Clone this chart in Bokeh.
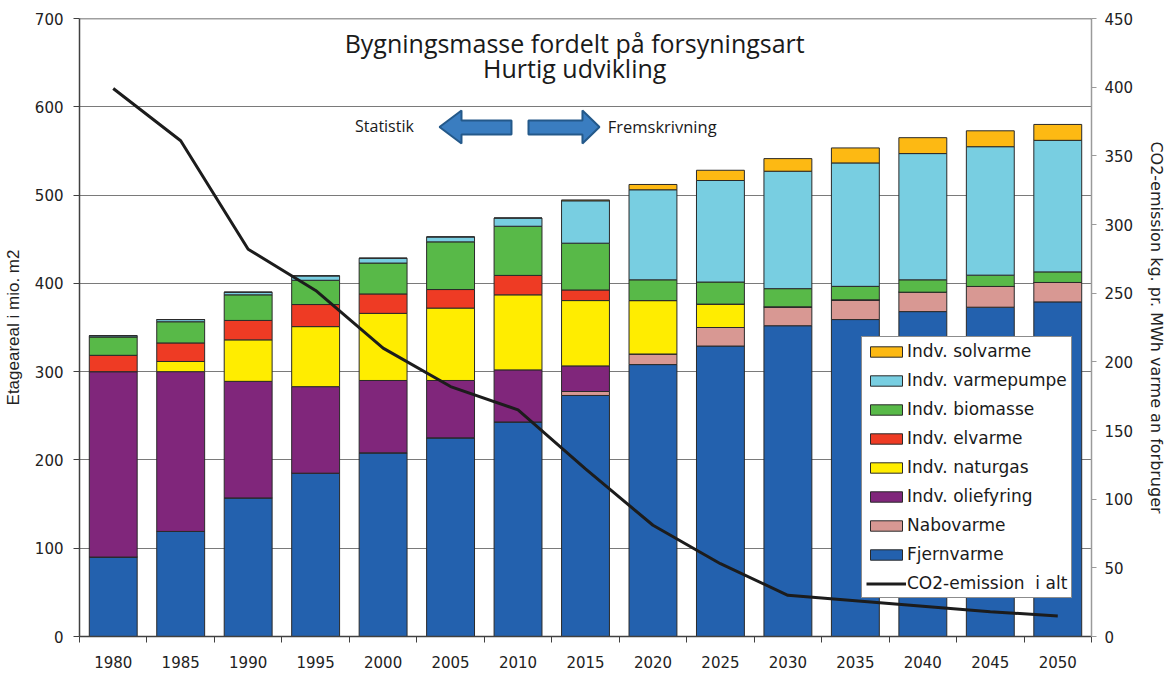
from bokeh.plotting import figure
from bokeh.models import (ColumnDataSource, Range1d, LinearAxis, FixedTicker, Legend,
                          LegendItem, Label, Span, CustomJSTickFormatter)
from bokeh.embed import file_html
from bokeh.resources import INLINE

years = ["1980", "1985", "1990", "1995", "2000", "2005", "2010", "2015",
         "2020", "2025", "2030", "2035", "2040", "2045", "2050"]
fjernvarme = [90, 119, 157, 185, 208, 225, 243, 273, 308, 329, 352, 359, 368, 373, 379]
nabovarme = [0, 0, 0, 0, 0, 0, 0, 4.5, 12, 21, 21.4, 22.3, 22, 23.5, 22]
oliefyring = [210, 181, 132, 98, 82, 65, 59, 29, 0, 0, 0, 0, 0, 0, 0]
naturgas = [0, 11.5, 47, 68, 76, 82, 85, 74, 60.5, 26.5, 0, 0, 0, 0, 0]
elvarme = [18.5, 21, 22, 25, 22, 21, 22, 12, 0, 0, 0, 0, 0, 0, 0]
biomasse = [20.7, 24, 29, 27.5, 35, 54, 55.7, 53, 23.5, 25, 20.6, 15.3, 14, 12.8, 12]
varmepumpe = [1.5, 2.5, 3, 5, 5.5, 5.6, 9.3, 48, 102, 115, 133, 139.8, 143, 145.5, 149]
solvarme = [0, 0, 0, 0, 0, 0, 0, 1, 6, 11.6, 14.3, 17, 18, 18, 18]
co2_emission = [399, 361, 282, 252, 210, 182, 165, 122, 81, 53, 30, 26, 22, 18, 15]

series_keys = ["fjernvarme", "nabovarme", "oliefyring", "naturgas",
               "elvarme", "biomasse", "varmepumpe", "solvarme"]
series_labels = ["Fjernvarme", "Nabovarme", "Indv. oliefyring", "Indv. naturgas",
                 "Indv. elvarme", "Indv. biomasse", "Indv. varmepumpe", "Indv. solvarme"]
series_colors = ["#2361AE", "#D89893", "#80267B", "#FFED00",
                 "#EE3B24", "#58B948", "#78CEE1", "#FDB913"]

x = [i + 0.5 for i in range(len(years))]
src = ColumnDataSource(dict(x=x, year=years, fjernvarme=fjernvarme, nabovarme=nabovarme,
                            oliefyring=oliefyring, naturgas=naturgas, elvarme=elvarme,
                            biomasse=biomasse, varmepumpe=varmepumpe, solvarme=solvarme,
                            co2=co2_emission))

p = figure(frame_width=1012, frame_height=618, output_backend="svg", toolbar_location=None,
           x_range=Range1d(0, len(years)), y_range=Range1d(0, 700),
           min_border_left=72, min_border_right=70, min_border_top=18, min_border_bottom=30)
p.outline_line_color = None
p.background_fill_color = "white"
p.border_fill_color = "white"

p.extra_y_ranges = {"co2": Range1d(0, 450)}

bar_renderers = p.vbar_stack(series_keys, x="x", width=0.71, source=src,
                             fill_color=series_colors, line_color="#2a2a2a", line_width=1)

line_r = p.line(x="x", y="co2", source=src, y_range_name="co2",
                line_color="#1c1c1c", line_width=3)

# axes
tick_font = "DejaVu Sans"
p.xaxis.ticker = FixedTicker(ticks=x, minor_ticks=list(range(len(years) + 1)))
p.xaxis.formatter = CustomJSTickFormatter(args=dict(labels=years),
                                          code="return labels[Math.floor(tick)];")
p.xaxis.major_tick_line_color = None
p.xaxis.minor_tick_in = 0
p.xaxis.minor_tick_out = 6
p.xaxis.minor_tick_line_color = "#404040"
p.xaxis.axis_line_color = "#404040"
p.xaxis.axis_line_width = 1.5
p.xaxis.major_label_text_font = tick_font
p.xaxis.major_label_text_font_size = "15px"
p.xaxis.major_label_text_color = "#222222"
p.xaxis.major_label_standoff = 13

p.yaxis.ticker = FixedTicker(ticks=list(range(0, 701, 100)))
p.yaxis.minor_tick_line_color = None
p.yaxis.major_tick_in = 0
p.yaxis.major_tick_out = 6
p.yaxis.major_tick_line_color = "#404040"
p.yaxis.axis_line_color = "#404040"
p.yaxis.axis_line_width = 1.5
p.yaxis.major_label_text_font = tick_font
p.yaxis.major_label_text_font_size = "15px"
p.yaxis.major_label_text_color = "#222222"
p.yaxis.major_label_standoff = 10
p.yaxis.axis_label = "Etageareal i mio. m2"
p.yaxis.axis_label_text_font = "Liberation Sans"
p.yaxis.axis_label_text_font_style = "normal"
p.yaxis.axis_label_text_font_size = "17px"
p.yaxis.axis_label_text_color = "#222222"
p.yaxis.axis_label_standoff = 9

right = LinearAxis(y_range_name="co2", ticker=FixedTicker(ticks=list(range(0, 451, 50))))
right.minor_tick_line_color = None
right.major_tick_in = 0
right.major_tick_out = 5
right.major_tick_line_color = "#9a9a9a"
right.axis_line_color = "#9a9a9a"
right.axis_line_width = 1.5
right.major_label_text_font = tick_font
right.major_label_text_font_size = "15px"
right.major_label_text_color = "#222222"
right.major_label_standoff = 8
right.axis_label = "CO2-emission kg. pr. MWh varme an forbruger"
right.axis_label_text_font = "DejaVu Sans"
right.axis_label_text_font_style = "normal"
right.axis_label_text_font_size = "16px"
right.axis_label_text_color = "#222222"
right.axis_label_standoff = 11
p.add_layout(right, "right")

p.xgrid.visible = False
p.ygrid.ticker = FixedTicker(ticks=list(range(100, 701, 100)))
p.ygrid.grid_line_color = "#7a7a7a"
p.ygrid.grid_line_width = 1

p.add_layout(Span(location=700, dimension="width", line_color="#404040", line_width=1.5))

# title inside the plot
title_font = "Open Sans"
p.add_layout(Label(x=7.34, y=672.5, text="Bygningsmasse fordelt på forsyningsart",
                   text_align="center", text_baseline="alphabetic", text_font=title_font,
                   text_font_size="25px", text_color="#1a1a1a"))
p.add_layout(Label(x=7.34, y=644, text="Hurtig udvikling",
                   text_align="center", text_baseline="alphabetic", text_font=title_font,
                   text_font_size="25px", text_color="#1a1a1a"))
p.add_layout(Label(x=4.52, y=578, text="Statistik", text_align="center",
                   text_baseline="alphabetic", text_font=title_font,
                   text_font_size="16px", text_color="#1a1a1a"))
p.add_layout(Label(x=7.83, y=578, text="Fremskrivning", text_align="left",
                   text_baseline="alphabetic", text_font=title_font,
                   text_font_size="16.5px", text_color="#1a1a1a"))

# block arrows (decoration)
arrow_fill = "#3A7DC0"
arrow_line = "#24598A"
p.patch([5.336, 5.662, 5.662, 6.403, 6.403, 5.662, 5.662],
        [577.1, 595.8, 584.5, 584.5, 568.6, 568.6, 558.4],
        fill_color=arrow_fill, line_color=arrow_line, line_width=2)
p.patch([7.707, 7.455, 7.455, 6.655, 6.655, 7.455, 7.455],
        [577.1, 595.8, 584.5, 584.5, 568.6, 568.6, 558.4],
        fill_color=arrow_fill, line_color=arrow_line, line_width=2)

# legend
items = [LegendItem(label=lab, renderers=[r])
         for lab, r in zip(series_labels, bar_renderers)][::-1]
items.append(LegendItem(label="CO2-emission  i alt", renderers=[line_r]))
legend = Legend(items=items, location=(782, 38), orientation="vertical")
legend.label_text_font = "DejaVu Sans"
legend.label_text_font_size = "17px"
legend.label_text_color = "#1a1a1a"
legend.glyph_width = 40
legend.glyph_height = 13
legend.label_height = 18
legend.label_standoff = 1
legend.spacing = 9
legend.padding = 4
legend.margin = 0
legend.border_line_color = "#1a1a1a"
legend.border_line_width = 1
legend.background_fill_color = "white"
legend.background_fill_alpha = 1
p.add_layout(legend)

open("out.html", "w").write(file_html(p, INLINE))
